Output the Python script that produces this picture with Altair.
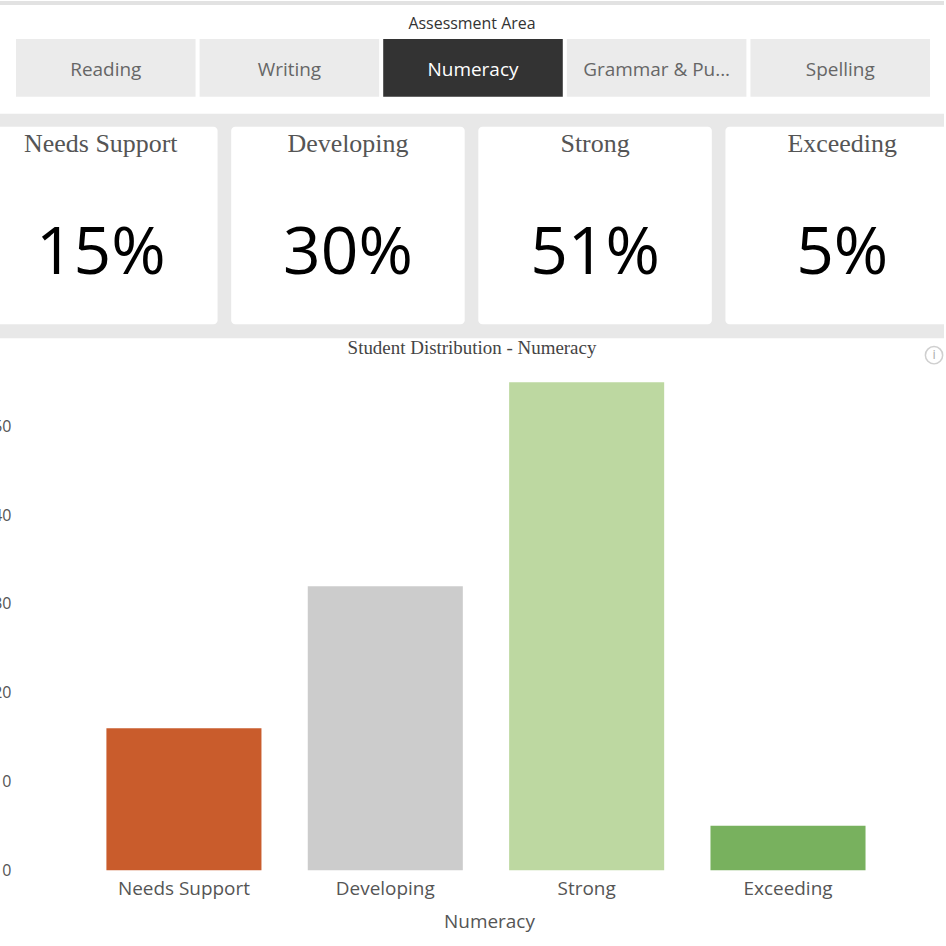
import altair as alt
import pandas as pd

# ---- data ----
tabs = ["Reading", "Writing", "Numeracy", "Grammar & Punctuation", "Spelling"]
selected_tab = "Numeracy"
levels = ["Needs Support", "Developing", "Strong", "Exceeding"]
counts = [16, 32, 55, 5]
colors = ["#C95C2C", "#CCCCCC", "#BDD8A1", "#78B15E"]
y_ticks = [0, 10, 20, 30, 40, 50]

total = sum(counts)
pcts = [f"{round(c / total * 100)}%" for c in counts]

SANS = "Open Sans"
SERIF = "Liberation Serif"
PAGE_W = 946
CLIP = 8           # overhang of the y labels that is cut off at the left edge

one = pd.DataFrame({"k": [0]})

# ---- panel A : tab selector ----
tab_df = pd.DataFrame({"tab": tabs, "sel": [t == selected_tab for t in tabs]})
xa = alt.X("tab:N", sort=tabs, axis=None,
           scale=alt.Scale(domain=tabs, range=[16, 932],
                           paddingInner=0.022, paddingOuter=0))
strip = alt.Chart(one).mark_rect(color="#E2E2E2").encode(
    x=alt.value(0), x2=alt.value(PAGE_W), y=alt.value(0), y2=alt.value(4))
heading = alt.Chart(one).mark_text(text="Assessment Area", font=SANS, fontSize=16,
                                   color="#333333").encode(
    x=alt.value(473), y=alt.value(23))
tab_rects = alt.Chart(tab_df).mark_rect().encode(
    x=xa, y=alt.value(38), y2=alt.value(96),
    color=alt.condition("datum.sel", alt.value("#333333"), alt.value("#EBEBEB")))
tab_text = alt.Chart(tab_df).mark_text(font=SANS, fontSize=19, limit=158, ellipsis="...").encode(
    x=xa, y=alt.value(69), text="tab:N",
    color=alt.condition("datum.sel", alt.value("#FFFFFF"), alt.value("#666666")))
panel_a = alt.layer(strip, heading, tab_rects, tab_text).properties(
    width=PAGE_W, height=113, view=alt.ViewBackground(fill="white", strokeWidth=0))

# ---- panel B : KPI cards ----
card_df = pd.DataFrame({"level": levels, "pct": pcts})
xb = alt.X("level:N", sort=levels, axis=None,
           scale=alt.Scale(domain=levels, range=[-16, 961],
                           paddingInner=0.055, paddingOuter=0))
cards = alt.Chart(card_df).mark_rect(color="white", cornerRadius=4, clip=True).encode(
    x=xb, y=alt.value(13), y2=alt.value(211))
card_lbl = alt.Chart(card_df).mark_text(font=SERIF, fontSize=26, color="#555555").encode(
    x=xb, y=alt.value(30), text="level:N")
card_val = alt.Chart(card_df).mark_text(font=SANS, fontSize=66, color="#000000").encode(
    x=xb, y=alt.value(141), text="pct:N")
panel_b = alt.layer(cards, card_lbl, card_val).properties(
    width=PAGE_W, height=225, view=alt.ViewBackground(fill="#E8E8E8", strokeWidth=0))

# ---- panel C : bar chart ----
bar_df = pd.DataFrame({"level": levels, "count": counts})
bars = alt.Chart(bar_df).mark_bar().encode(
    x=alt.X("level:N", sort=levels, title="Numeracy",
            scale=alt.Scale(range=[34, 940], paddingInner=0.23, paddingOuter=0.36),
            axis=alt.Axis(labelAngle=0, labelFont=SANS, labelFontSize=19, labelColor="#555555",
                          titleFont=SANS, titleFontSize=19, titleColor="#555555",
                          titleFontWeight="normal", domain=False, ticks=False,
                          labelPadding=9, titlePadding=14, titleX=490)),
    y=alt.Y("count:Q", title=None, scale=alt.Scale(domain=[0, 55], nice=False),
            axis=alt.Axis(values=y_ticks, grid=False, domain=False, ticks=False,
                          labelFont=SANS, labelFontSize=16, labelColor="#555555",
                          labelPadding=23, offset=-34)),
    color=alt.Color("level:N", scale=alt.Scale(domain=levels, range=colors), legend=None),
)
info_circle = alt.Chart(one).mark_point(shape="circle", size=300, filled=False,
                                        color="#BBBBBB", strokeWidth=1.5).encode(
    x=alt.value(936), y=alt.value(-27))
info_i = alt.Chart(one).mark_text(text="i", font=SANS, fontSize=13, color="#AAAAAA").encode(
    x=alt.value(936), y=alt.value(-27))
panel_c = alt.layer(bars, info_circle, info_i).properties(
    width=PAGE_W, height=489,
    title=alt.TitleParams("Student Distribution - Numeracy", font=SERIF, fontSize=19,
                          color="#444444", fontWeight="normal", offset=-14),
    view=alt.ViewBackground(fill="white", strokeWidth=0),
)

chart = alt.vconcat(panel_a, panel_b, panel_c, spacing=0).properties(
    padding={"left": -CLIP, "top": 0, "right": 0, "bottom": 0},
    background="white",
).configure_view(strokeWidth=0)

chart.save("out.html", embed_options={"renderer": "svg", "actions": False})
